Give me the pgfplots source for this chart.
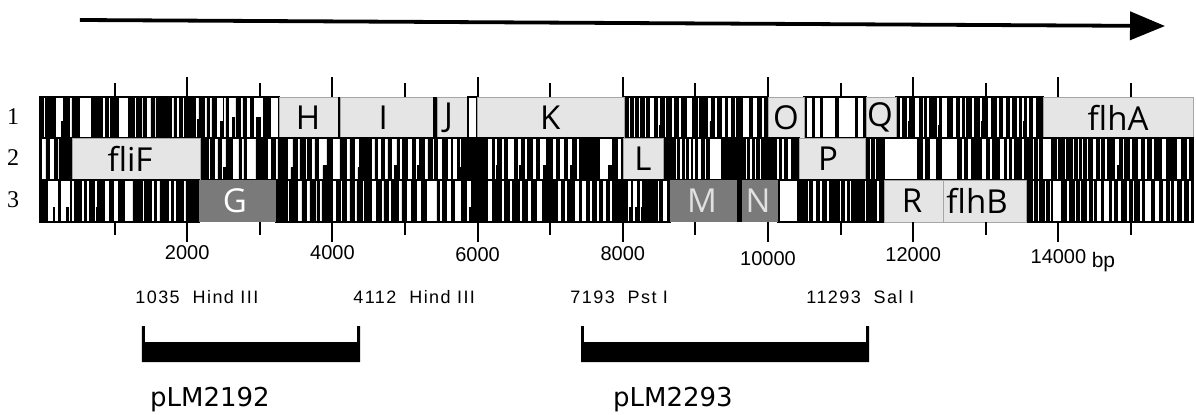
\documentclass[border=0pt]{standalone}
\usepackage{pgfplots}
\pgfplotsset{compat=1.18}
\usetikzlibrary{arrows.meta}
\usepackage{fontspec}
\setmainfont{Liberation Sans}
\newfontfamily\genefont{Open Sans}
\newfontfamily\seriffont{Liberation Serif}
\newfontfamily\plmfont{DejaVu Sans}
\newfontfamily\sitefont[LetterSpace=8]{Liberation Sans}
\begin{document}
\begin{tikzpicture}
\pgfplotsset{
  rowax/.style={scale only axis, width=598pt, xmin=-578.5, xmax=15895, ymin=0, ymax=1,
    axis lines=none, clip=false, anchor=south west},
  bc/.style={const plot, fill=black, draw=black, line width=0.45pt},
  box/.style={draw=black, line width=0.8pt, fill=none},
  lgene/.style={fill=black!10, draw=black!35, line width=0.3pt},
  dgene/.style={fill=black!52, draw=none},
}
% ---------------- Row 1 ----------------
\begin{axis}[rowax, at={(0pt,138pt)}, height=20.5pt]
\addplot[bc] coordinates {(-28,1) (14,0) (42,1) (83,0) (97,1) (179,0) (262,0.4) (290,1) (372,0) (413,1) (510,0) (675,1) (771,0) (785,1) (827,0) (868,1) (909,0) (937,1) (1047,0) (1185,1) (1267,0) (1295,1) (1364,0) (1391,1) (1432,0) (1501,1) (1543,0) (1570,1) (1667,0) (1680,1) (1777,0) (1818,1) (1846,0) (1887,1) (1928,0) (1956,1) (2107,0) (2140,0.45) (2162,1) (2231,0) (2272,1) (2300,0) (2341,1) (2396,0) (2460,0.4) (2493,1) (2506,0) (2534,1) (2562,0) (2630,0.5) (2650,0) (2672,1) (2727,0) (2768,1) (2810,0) (2865,1) (2906,0) (2960,0.5) (3010,0) (3044,1) (3085,0) (3112,1) (3140,0) (3264,0)} \closedcycle;
\addplot[bc] coordinates {(8017,1) (8083,0) (8111,1) (8152,0) (8180,1) (8221,0) (8249,1) (8304,0) (8331,1) (8373,0) (8442,1) (8483,0) (8505,0.3) (8524,1) (8579,0) (8607,1) (8676,0) (8717,1) (8772,0) (8813,1) (8882,0) (8964,1) (9033,0) (9061,1) (9172,0) (9200,0.4) (9227,1) (9268,0) (9309,1) (9364,0) (9419,1) (9447,0) (9502,1) (9543,0) (9571,1) (9653,0) (9750,1) (9791,0) (9860,1) (9915,0) (9956,1) (10000,1)} \closedcycle;
\addplot[bc] coordinates {(10496,1) (10534,0) (10617,1) (10645,0) (10727,1) (10755,0) (10934,1) (10975,0) (11209,1) (11237,0) (11319,1) (11350,1)} \closedcycle;
\addplot[bc] coordinates {(11763,1) (11815,0) (11856,1) (11911,0) (11935,0.4) (11952,1) (12021,0) (12090,1) (12132,0) (12159,1) (12187,0) (12228,1) (12324,0) (12345,0.3) (12365,1) (12393,0) (12476,1) (12545,0) (12600,1) (12641,0) (12683,1) (12710,0) (12738,1) (12806,0) (12848,1) (12917,0) (12940,0.4) (12958,1) (13027,0) (13082,1) (13151,0) (13192,1) (13233,0) (13288,1) (13330,0) (13371,1) (13426,0) (13467,1) (13495,0) (13515,0.4) (13537,1) (13564,0) (13605,1) (13647,0) (13702,1) (13788,1)} \closedcycle;
\addplot[box] coordinates {(-28,0) (3264,0) (3264,1) (-28,1)} --cycle;
\addplot[box] coordinates {(8017,0) (10000,0) (10000,1) (8017,1)} --cycle;
\addplot[box] coordinates {(10496,0) (11350,0) (11350,1) (10496,1)} --cycle;
\addplot[box] coordinates {(11763,0) (13788,0) (13788,1) (11763,1)} --cycle;
\addplot[lgene] coordinates {(3264,0) (4077,0) (4077,1) (3264,1)} --cycle;
\addplot[fill=black, draw=none] coordinates {(4077,0) (4105,0) (4105,1) (4077,1)} --cycle;
\addplot[lgene] coordinates {(4105,0) (5386,0) (5386,1) (4105,1)} --cycle;
\addplot[fill=black, draw=none] coordinates {(5386,0) (5441,0) (5441,1) (5386,1)} --cycle;
\addplot[lgene] coordinates {(5441,0) (5868,0) (5868,1) (5441,1)} --cycle;
\addplot[fill=white, draw=black, line width=0.6pt] coordinates {(5868,0) (5992,0) (5992,1) (5868,1)} --cycle;
\addplot[lgene] coordinates {(5992,0) (8017,0) (8017,1) (5992,1)} --cycle;
\addplot[lgene] coordinates {(10000,0) (10496,0) (10496,1) (10000,1)} --cycle;
\addplot[lgene] coordinates {(11350,0) (11763,0) (11763,1) (11350,1)} --cycle;
\addplot[lgene] coordinates {(13788,0) (15854,0) (15854,1) (13788,1)} --cycle;
\end{axis}
% ---------------- Row 2 ----------------
\begin{axis}[rowax, at={(0pt,117pt)}, height=21pt]
\addplot[bc] coordinates {(-28,1) (-13,0) (55,1) (97,0) (166,1) (207,0) (234,1) (413,1)} \closedcycle;
\addplot[bc] coordinates {(2176,1) (2286,0) (2327,1) (2369,0) (2424,1) (2465,0) (2506,0.3) (2534,1) (2630,0) (2713,1) (2741,0) (2782,1) (2810,0) (2947,1) (3099,0) (3167,1) (3209,0) (3250,1) (3305,0) (3319,1) (3374,0) (3429,0.3) (3457,1) (3512,0) (3553,1) (3622,0) (3663,1) (3718,0) (3760,1) (3801,0) (3870,0.35) (3925,1) (3994,0) (4104,1) (4200,0) (4242,1) (4310,0) (4352,0.3) (4379,1) (4544,0) (4586,1) (4627,0) (4682,1) (4723,0) (4765,1) (4820,0) (4861,0.35) (4889,1) (4930,0) (4971,1) (5040,0) (5109,1) (5137,0) (5178,0.35) (5205,1) (5274,0) (5316,1) (5371,0) (5412,1) (5453,0) (5522,1) (5591,0) (5646,1) (5660,0) (5729,1) (5756,0.3) (5784,1) (6059,0) (6073,1) (6142,0) (6211,1) (6238,0) (6266,0.35) (6279,1) (6335,0) (6376,1) (6417,0) (6514,1) (6555,0) (6582,0.35) (6610,1) (6651,0) (6693,1) (6761,0) (6817,1) (6858,0) (6913,0.35) (6954,1) (7037,0) (7092,1) (7133,0) (7202,1) (7243,0) (7285,0.35) (7312,1) (7367,0) (7409,1) (7505,0) (7519,1) (7574,0) (7588,1) (7684,0) (7808,0.35) (7863,1) (7932,0) (7987,1) (8003,1)} \closedcycle;
\addplot[bc] coordinates {(8554,1) (8675,0) (8689,1) (8730,0) (8758,1) (8786,0) (8827,1) (8854,0) (8882,1) (8910,0) (8951,1) (8964,0) (9006,1) (9033,0) (9088,1) (9130,0) (9157,1) (9199,0) (9364,1) (9694,0) (9722,1) (9750,0) (9791,1) (9818,0) (9846,1) (9887,0) (9915,1) (10122,0) (10163,1) (10190,0) (10231,1) (10273,0) (10328,1) (10427,1)} \closedcycle;
\addplot[bc] coordinates {(11336,1) (11402,0) (11430,1) (11471,0) (11499,1) (11609,0) (12063,1) (12132,0) (12173,1) (12228,0) (12324,1) (12393,0) (12613,1) (12669,0) (12710,1) (12751,0) (12806,1) (12944,0) (13013,1) (13054,0) (13096,1) (13192,0) (13261,1) (13288,0) (13330,1) (13357,0) (13399,1) (13495,0) (13537,1) (13564,0) (13578,1) (13647,0) (13674,1) (13715,0) (13743,1) (13784,0) (13908,1) (13977,0) (14004,1) (14087,0) (14115,1) (14197,0) (14225,1) (14266,0) (14293,1) (14321,0) (14348,1) (14390,0) (14417,1) (14473,0) (14528,1) (14569,0) (14597,1) (14638,0) (14679,1) (14776,0) (14817,0.35) (14844,1) (14886,0) (14913,1) (14982,0) (15023,1) (15092,0) (15147,1) (15188,0) (15229,1) (15284,0) (15326,1) (15422,0) (15491,1) (15629,0) (15698,1) (15767,0) (15808,1) (15854,1)} \closedcycle;
\addplot[box] coordinates {(-28,0) (413,0) (413,1) (-28,1)} --cycle;
\addplot[box] coordinates {(2176,0) (8003,0) (8003,1) (2176,1)} --cycle;
\addplot[box] coordinates {(8554,0) (10427,0) (10427,1) (8554,1)} --cycle;
\addplot[box] coordinates {(11336,0) (15854,0) (15854,1) (11336,1)} --cycle;
\addplot[lgene] coordinates {(413,0) (2176,0) (2176,1) (413,1)} --cycle;
\addplot[lgene] coordinates {(8003,0) (8554,0) (8554,1) (8003,1)} --cycle;
\addplot[lgene] coordinates {(10427,0) (11336,0) (11336,1) (10427,1)} --cycle;
\end{axis}
% ---------------- Row 3 ----------------
\begin{axis}[rowax, at={(0pt,96pt)}, height=21pt]
\addplot[bc] coordinates {(-28,1) (14,0) (28,1) (69,0) (152,0.35) (175,0) (221,1) (248,0) (331,0.35) (360,0) (386,1) (400,0) (441,1) (537,0) (579,1) (606,0) (648,1) (716,0) (744,0.35) (758,1) (854,0) (923,1) (978,0) (1047,1) (1102,0) (1116,1) (1129,0) (1253,1) (1377,0) (1405,1) (1501,0) (1543,1) (1570,0) (1625,1) (1735,0) (1777,1) (1804,0) (1846,1) (1942,0) (1983,1) (2052,0) (2066,1) (2163,1)} \closedcycle;
\addplot[bc] coordinates {(3223,1) (3374,0) (3415,1) (3525,0) (3581,1) (3649,0) (3691,1) (3760,0) (3787,1) (3828,0) (3856,1) (4007,0) (4062,1) (4104,0) (4145,1) (4200,0) (4242,1) (4310,0) (4338,1) (4407,0) (4448,1) (4544,0) (4613,1) (4682,0) (4710,1) (4765,0) (4820,1) (4903,0) (4958,1) (5026,0) (5095,1) (5164,0) (5233,1) (5302,0) (5440,1) (5481,0) (5522,1) (5577,0) (5646,1) (5687,0) (5784,1) (5853,0) (5894,0.35) (5921,1) (6142,0) (6211,1) (6266,0) (6279,1) (6335,0) (6376,1) (6445,0) (6486,1) (6582,0) (6624,1) (6693,0) (6748,1) (6817,0) (6899,1) (7106,0) (7161,1) (7202,0) (7243,1) (7340,0) (7409,1) (7436,0) (7505,1) (7546,0) (7588,1) (7643,0) (7684,1) (7725,0) (7780,1) (7822,0) (7863,1) (8070,0) (8097,0.35) (8125,1) (8138,0) (8180,0.35) (8207,1) (8235,0) (8263,0.35) (8276,1) (8331,0) (8345,1) (8400,0) (8414,1) (8483,0) (8510,1) (8551,0) (8620,1) (8650,1)} \closedcycle;
\addplot[bc] coordinates {(10138,1) (10163,0) (10410,1) (10548,0) (10576,1) (10617,0) (10672,1) (10713,0) (10755,1) (10810,0) (10851,1) (10989,0) (11016,1) (11058,0) (11099,1) (11126,0) (11154,1) (11333,0) (11360,1) (11429,0) (11443,1) (11499,0) (11540,1) (11598,1)} \closedcycle;
\addplot[bc] coordinates {(13554,1) (13646,0) (13674,1) (13715,0) (13743,1) (13812,0) (13839,1) (13881,0) (13908,1) (13922,0) (14046,1) (14115,0) (14156,1) (14225,0) (14252,1) (14294,0) (14321,1) (14390,0) (14431,1) (14473,0) (14500,1) (14528,0) (14597,1) (14624,0) (14707,1) (14734,0) (14776,1) (14817,0) (14872,1) (14941,0) (14982,1) (15023,0) (15051,1) (15120,0) (15161,1) (15188,0) (15284,1) (15326,0) (15395,1) (15436,0) (15491,1) (15533,0) (15560,1) (15588,0) (15643,1) (15698,0) (15739,1) (15794,0) (15835,1) (15854,1)} \closedcycle;
\addplot[box] coordinates {(-28,0) (2163,0) (2163,1) (-28,1)} --cycle;
\addplot[box] coordinates {(3223,0) (8650,0) (8650,1) (3223,1)} --cycle;
\addplot[box] coordinates {(10138,0) (11598,0) (11598,1) (10138,1)} --cycle;
\addplot[box] coordinates {(13554,0) (15854,0) (15854,1) (13554,1)} --cycle;
\addplot[dgene] coordinates {(2163,0) (3223,0) (3223,1) (2163,1)} --cycle;
\addplot[dgene] coordinates {(8650,0) (9573,0) (9573,1) (8650,1)} --cycle;
\addplot[fill=black, draw=none] coordinates {(9573,0) (9642,0) (9642,1) (9573,1)} --cycle;
\addplot[dgene] coordinates {(9642,0) (10138,0) (10138,1) (9642,1)} --cycle;
\addplot[lgene] coordinates {(11598,0) (12410,0) (12410,1) (11598,1)} --cycle;
\addplot[lgene] coordinates {(12410,0) (13554,0) (13554,1) (12410,1)} --cycle;
\end{axis}
% ---------------- Main frame: scale, labels, clones ----------------
\begin{axis}[name=main, at={(0pt,0pt)}, anchor=south west, scale only axis,
  width=598pt, height=207pt, xmin=-578.5, xmax=15895, ymin=0, ymax=414,
  axis lines=none, clip=false]
% direction arrow
\addplot[black, line width=1.9pt, -{Triangle[length=17.5pt, width=14pt]}] coordinates {(523,394) (15468,388)};
% top and bottom ticks
\pgfplotsinvokeforeach{2000,4000,6000,8000,10000,12000,14000}{
  \draw[line width=1pt] (axis cs:#1,317) -- (axis cs:#1,337);
  \draw[line width=1pt] (axis cs:#1,192) -- (axis cs:#1,172);
}
\pgfplotsinvokeforeach{1000,3000,5000,7000,9000,11000,13000,15000}{
  \draw[line width=1pt] (axis cs:#1,317) -- (axis cs:#1,331);
  \draw[line width=1pt] (axis cs:#1,192) -- (axis cs:#1,179);
}
% tick labels
\begin{scope}[every node/.style={font=\fontsize{10}{10}\selectfont}]
\node at (axis cs:2000,161) {2000};
\node at (axis cs:4000,161) {4000};
\node at (axis cs:6000,159) {6000};
\node at (axis cs:8000,160) {8000};
\node at (axis cs:10000,155) {10000};
\node at (axis cs:12000,159) {12000};
\node at (axis cs:14000,157) {14000};
\node[font=\fontsize{10.5}{10.5}\selectfont] at (axis cs:14620,152) {bp};
\end{scope}
% row numbers
\begin{scope}[every node/.style={font=\seriffont\fontsize{12}{12}\selectfont}]
\node at (axis cs:-399,297) {1};
\node at (axis cs:-399,256) {2};
\node at (axis cs:-399,214) {3};
\end{scope}
% gene names
\begin{scope}[every node/.style={font=\genefont\fontsize{16.5}{16.5}\selectfont, inner sep=0pt}]
\node at (axis cs:3664,296.5) {H};
\node at (axis cs:4700,296.5) {I};
\node at (axis cs:5600,296.5) {J};
\node at (axis cs:7000,296.5) {K};
\node at (axis cs:10248,296.5) {O};
\node at (axis cs:11543,296.5) {Q};
\node at (axis cs:14821,296.5) {flhA};
\node at (axis cs:1212,255) {fliF};
\node at (axis cs:8278,255) {L};
\node at (axis cs:10826,255) {P};
\node[text=white] at (axis cs:2658,213) {G};
\node[text=black!12] at (axis cs:9091,213) {M};
\node[text=black!12] at (axis cs:9862,213) {N};
\node at (axis cs:11983,213) {R};
\node at (axis cs:12879,213) {flhB};
\end{scope}
% restriction sites
\begin{scope}[every node/.style={font=\sitefont\fontsize{9}{9}\selectfont, anchor=west, inner sep=0pt}]
\node at (axis cs:1281,117) {1035\ \ Hind III};
\node at (axis cs:4284,117) {4112\ \ Hind III};
\node at (axis cs:7273,117) {7193\ \ Pst I};
\node at (axis cs:10523,117) {11293\ \ Sal I};
\end{scope}
% cloned fragments
\addplot[fill=black, draw=none] coordinates {(1377,52) (4380,52) (4380,88) (4339,88) (4339,72) (1418,72) (1418,88) (1377,88)} --cycle;
\addplot[fill=black, draw=none] coordinates {(7424,52) (11391,52) (11391,88) (11350,88) (11350,72) (7465,72) (7465,88) (7424,88)} --cycle;
\node[font=\plmfont\fontsize{13}{13}\selectfont] at (axis cs:2314,14) {pLM2192};
\node[font=\plmfont\fontsize{13}{13}\selectfont] at (axis cs:8691,14) {pLM2293};
\end{axis}
\pgfresetboundingbox
\path[use as bounding box] (main.south west) rectangle (main.north east);
\end{tikzpicture}
\end{document}
